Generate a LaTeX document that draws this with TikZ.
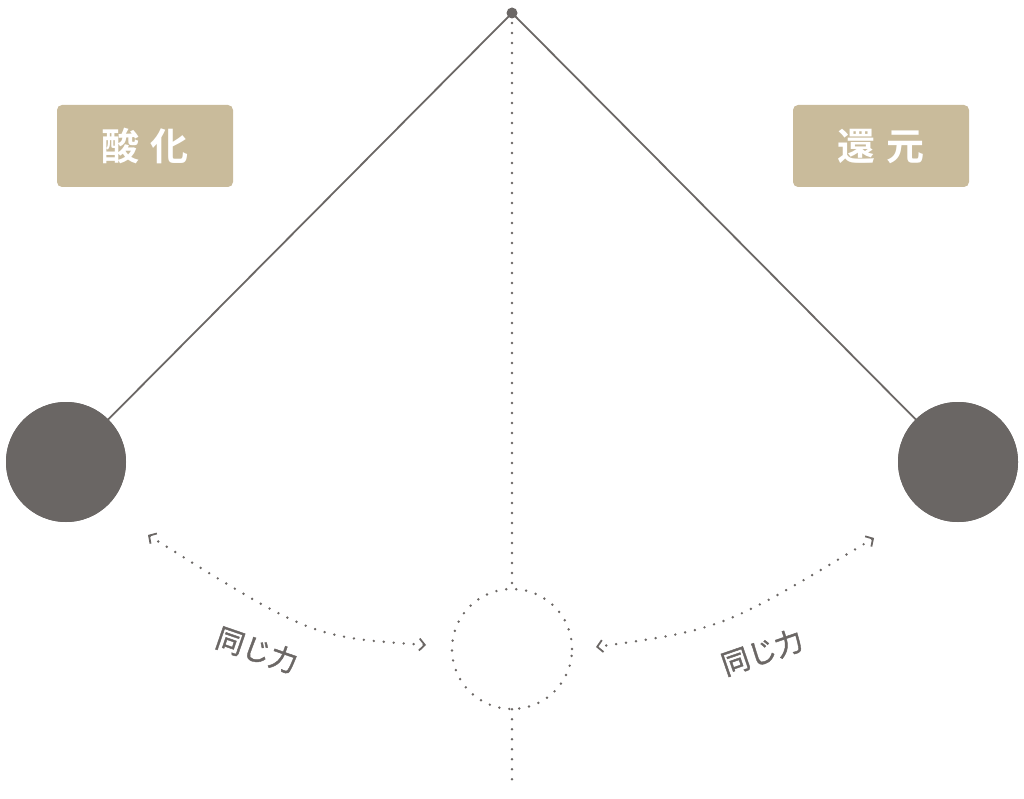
\documentclass[tikz,border=0pt]{standalone}
\usepackage{fontspec}
\newfontfamily\jp[FakeBold=1.5]{Noto Sans CJK JP}
\newfontfamily\jpb{Noto Sans CJK JP Bold}
\usetikzlibrary{arrows.meta}
\definecolor{ink}{HTML}{6B6765}
\definecolor{ball}{HTML}{6A6664}
\definecolor{sand}{HTML}{C9BB9B}
\tikzset{
  rod/.style={draw=ink, line width=1.8pt},
  dotline/.style={draw=ink, line width=2.7pt, line cap=round, dash pattern=on 0pt off 10pt},
  bob/.style={circle, fill=ball, minimum size=120pt, inner sep=0pt},
  tag/.style={rectangle, rounded corners=5pt, fill=sand, minimum width=176pt, minimum height=82pt, text=white, font=\jpb\fontsize{38}{38}\selectfont},
  force/.style={dotline, {Straight Barb[length=5.5pt,width=12pt,line width=1.8pt]}-{Straight Barb[length=5.5pt,width=12pt,line width=1.8pt]}},
  flabel/.style={text=ink, font=\jp\fontsize{28}{28}\selectfont}
}
\begin{document}
\begin{tikzpicture}[x=1pt,y=-1pt]
\useasboundingbox (0,0) rectangle (1024,799);
\coordinate (pivot) at (512,13);
\node[bob] (lb) at (66,462) {};
\node[bob] (rb) at (958,462) {};
\node[circle, minimum size=120pt, inner sep=0pt] (ghost) at (512,649) {};
\coordinate (bottom) at (512,787);
\draw[dotline] (pivot) ++(0,10) -- (ghost.north);
\draw[dotline] (ghost.south) -- (bottom);
\draw[dotline] (ghost) circle[radius=60pt];
\draw[rod] (pivot) -- (lb.center);
\draw[rod] (pivot) -- (rb.center);
\node[bob] at (lb) {};
\node[bob] at (rb) {};
\fill[ink] (pivot) circle[radius=5.5pt];
\node[tag] (ox) at (145,146) {酸\hspace{12pt}化};
\node[tag] (red) at (881,146) {還\hspace{12pt}元};
\coordinate (la) at (148,535);
\coordinate (lz) at (426,645);
\coordinate (ra) at (874,538);
\coordinate (rz) at (596,647);
\draw[force] (la) .. controls (311,637) .. (lz);
\draw[force] (ra) .. controls (723,629) .. (rz);
\node[flabel, rotate=-19] (lt) at (257,650) {同じ力};
\node[flabel, rotate=19] (rt) at (762,652) {同じ力};
\end{tikzpicture}
\end{document}
